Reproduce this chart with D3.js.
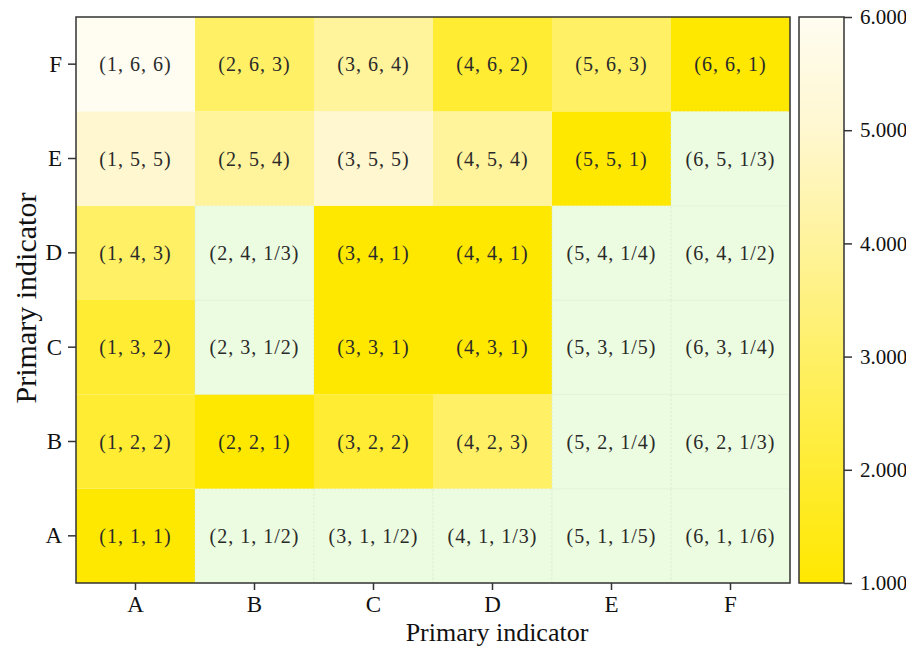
<!DOCTYPE html>
<html lang="en">
<head>
<meta charset="UTF-8">
<title>Primary indicator comparison matrix</title>
<script src="https://d3js.org/d3.v7.min.js"></script>
<style>
  body { margin: 0; background: #fff; }
  svg text { font-family: "Liberation Serif", "Times New Roman", serif; }
</style>
</head>
<body>
<div id="chart"></div>
<script>
// indicator names (x = columns, y = rows)
const indicators = ["A", "B", "C", "D", "E", "F"];

// judgement values per row (row A .. row F), columns A .. F
const rowA = ["1", "1/2", "1/2", "1/3", "1/5", "1/6"];
const rowB = ["2", "1", "2", "3", "1/4", "1/3"];
const rowC = ["2", "1/2", "1", "1", "1/5", "1/4"];
const rowD = ["3", "1/3", "1", "1", "1/4", "1/2"];
const rowE = ["5", "4", "5", "4", "1", "1/3"];
const rowF = ["6", "3", "4", "2", "3", "1"];
const rows = [rowA, rowB, rowC, rowD, rowE, rowF];

// colour bar ticks and stops
const barTicks = [1, 2, 3, 4, 5, 6];
const barColors = ["#ffe800", "#ffec33", "#fff066", "#fff39c", "#fff7cf", "#fffcf1"];
const belowColor = "#ecfce1";

const W = 906, H = 647;
const margin = {top: 17, left: 76, right: 116, bottom: 64};
const plotW = 790 - margin.left, plotH = 583 - margin.top;

const svg = d3.select("#chart").append("svg")
    .attr("width", W).attr("height", H);

const g = svg.append("g").attr("transform", `translate(${margin.left},${margin.top})`);

const x = d3.scaleBand().domain(indicators).range([0, plotW]);
const y = d3.scaleBand().domain(indicators).range([plotH, 0]);
const color = d3.scaleLinear().domain(barTicks).range(barColors).clamp(true);

const parse = s => s.includes("/") ? (+s.split("/")[0]) / (+s.split("/")[1]) : +s;

const cells = [];
rows.forEach((r, ri) => r.forEach((v, ci) => {
  cells.push({col: ci, row: ri, label: v, value: parse(v)});
}));

// cells
g.selectAll(".cell").data(cells).enter().append("rect")
    .attr("class", "cell")
    .attr("x", d => x(indicators[d.col]))
    .attr("y", d => y(indicators[d.row]))
    .attr("width", x.bandwidth())
    .attr("height", y.bandwidth())
    .attr("fill", d => d.value < 1 ? belowColor : color(d.value))
    .attr("stroke", d => d.value < 1 ? "#dcebd2" : "none")
    .attr("stroke-dasharray", "2,2")
    .attr("stroke-width", 0.8);

// cell labels
g.selectAll(".lbl").data(cells).enter().append("text")
    .attr("class", "lbl")
    .attr("x", d => x(indicators[d.col]) + x.bandwidth() / 2)
    .attr("y", d => y(indicators[d.row]) + y.bandwidth() / 2)
    .attr("dy", "0.35em")
    .attr("text-anchor", "middle")
    .style("font-size", "20px")
    .style("letter-spacing", "1px")
    .style("fill", "#2a2a2a")
    .text(d => `(${d.col + 1}, ${d.row + 1}, ${d.label})`);

// frame
g.append("rect")
    .attr("width", plotW).attr("height", plotH)
    .attr("fill", "none").attr("stroke", "#333").attr("stroke-width", 1.5);

// axes
const xAxis = g.append("g")
    .attr("transform", `translate(0,${plotH})`)
    .call(d3.axisBottom(x).tickSize(7).tickPadding(6));
const yAxis = g.append("g")
    .call(d3.axisLeft(y).tickSize(8).tickPadding(6));
[xAxis, yAxis].forEach(a => {
  a.select(".domain").remove();
  a.selectAll(".tick line").attr("stroke", "#333").attr("stroke-width", 1.5);
  a.selectAll(".tick text")
      .style("font-family", "'Liberation Serif', serif")
      .style("font-size", "23px").attr("fill", "#111");
});

// axis titles
svg.append("text")
    .attr("x", 497).attr("y", 641)
    .attr("text-anchor", "middle")
    .style("font-size", "26px").style("fill", "#111")
    .text("Primary indicator");

svg.append("text")
    .attr("transform", "translate(36,298) rotate(-90)")
    .attr("text-anchor", "middle")
    .style("font-size", "30px").style("fill", "#111")
    .text("Primary indicator");

// colour bar
const barX = 799, barW = 45;
const cb = d3.scaleLinear().domain([1, 6]).range([583, 17]);

const defs = svg.append("defs");
const grad = defs.append("linearGradient").attr("id", "cbGrad")
    .attr("x1", 0).attr("y1", 1).attr("x2", 0).attr("y2", 0);
grad.selectAll("stop").data(barTicks).enter().append("stop")
    .attr("offset", d => (d - 1) / 5)
    .attr("stop-color", d => color(d));

svg.append("rect")
    .attr("x", barX).attr("y", cb(6))
    .attr("width", barW).attr("height", cb(1) - cb(6))
    .attr("fill", "url(#cbGrad)")
    .attr("stroke", "#333").attr("stroke-width", 1.5);

const cbAxis = svg.append("g")
    .attr("transform", `translate(${barX + barW},0)`)
    .call(d3.axisRight(cb).tickValues(barTicks).tickFormat(d3.format(".3f")).tickSize(8).tickPadding(8));
cbAxis.select(".domain").remove();
cbAxis.selectAll(".tick line").attr("stroke", "#333").attr("stroke-width", 1.5);
cbAxis.selectAll(".tick text")
    .style("font-family", "'Liberation Serif', serif")
    .style("font-size", "21px").attr("fill", "#111");
</script>
</body>
</html>
